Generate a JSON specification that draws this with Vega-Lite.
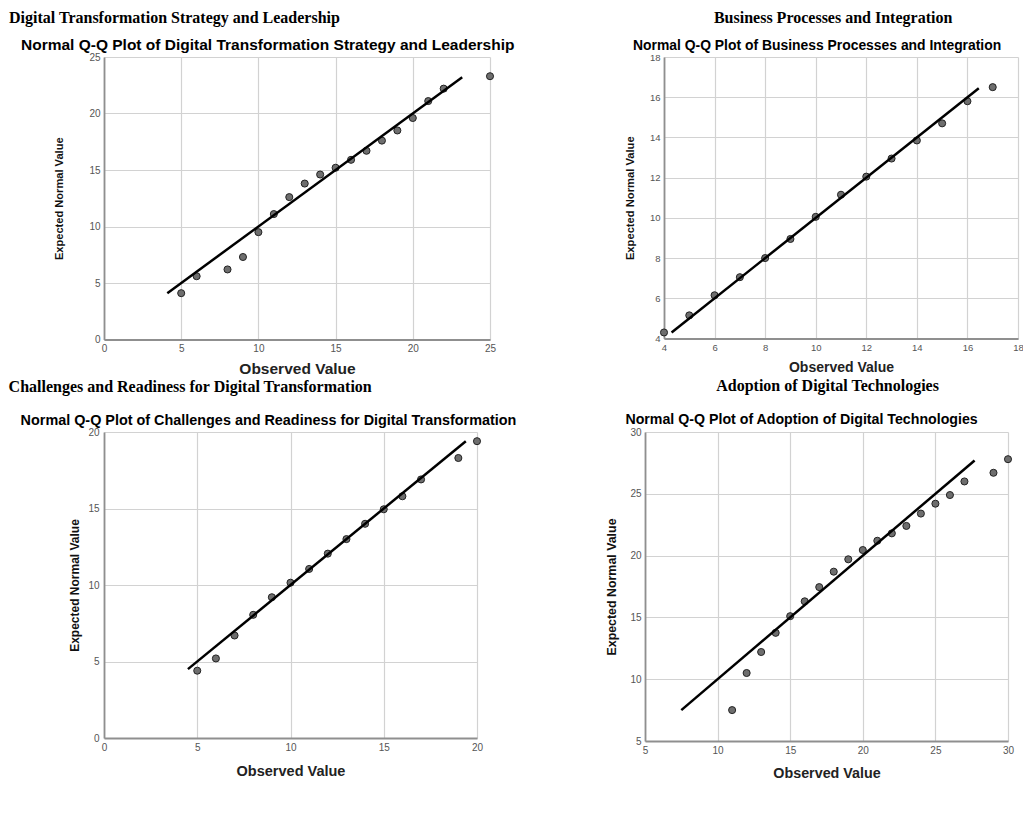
{
  "$schema": "https://vega.github.io/schema/vega-lite/v6.json",
  "background": "white",
  "padding": {"left": 8, "top": 9, "right": 0, "bottom": 0},
  "datasets": {
    "pts": [
      {"panel": "A", "x": 5, "y": 4.1}, {"panel": "A", "x": 6, "y": 5.6}, {"panel": "A", "x": 8, "y": 6.2}, {"panel": "A", "x": 9, "y": 7.3},
      {"panel": "A", "x": 10, "y": 9.5}, {"panel": "A", "x": 11, "y": 11.1}, {"panel": "A", "x": 12, "y": 12.6}, {"panel": "A", "x": 13, "y": 13.8},
      {"panel": "A", "x": 14, "y": 14.6}, {"panel": "A", "x": 15, "y": 15.2}, {"panel": "A", "x": 16, "y": 15.9}, {"panel": "A", "x": 17, "y": 16.7},
      {"panel": "A", "x": 18, "y": 17.6}, {"panel": "A", "x": 19, "y": 18.5}, {"panel": "A", "x": 20, "y": 19.6}, {"panel": "A", "x": 21, "y": 21.1},
      {"panel": "A", "x": 22, "y": 22.2}, {"panel": "A", "x": 25, "y": 23.3},
      {"panel": "B", "x": 4, "y": 4.3}, {"panel": "B", "x": 5, "y": 5.15}, {"panel": "B", "x": 6, "y": 6.15}, {"panel": "B", "x": 7, "y": 7.05},
      {"panel": "B", "x": 8, "y": 8.0}, {"panel": "B", "x": 9, "y": 8.95}, {"panel": "B", "x": 10, "y": 10.05}, {"panel": "B", "x": 11, "y": 11.15},
      {"panel": "B", "x": 12, "y": 12.05}, {"panel": "B", "x": 13, "y": 12.95}, {"panel": "B", "x": 14, "y": 13.85}, {"panel": "B", "x": 15, "y": 14.7},
      {"panel": "B", "x": 16, "y": 15.8}, {"panel": "B", "x": 17, "y": 16.5},
      {"panel": "C", "x": 5, "y": 4.4}, {"panel": "C", "x": 6, "y": 5.2}, {"panel": "C", "x": 7, "y": 6.7}, {"panel": "C", "x": 8, "y": 8.05},
      {"panel": "C", "x": 9, "y": 9.2}, {"panel": "C", "x": 10, "y": 10.15}, {"panel": "C", "x": 11, "y": 11.05}, {"panel": "C", "x": 12, "y": 12.05},
      {"panel": "C", "x": 13, "y": 13.0}, {"panel": "C", "x": 14, "y": 14.0}, {"panel": "C", "x": 15, "y": 14.95}, {"panel": "C", "x": 16, "y": 15.8},
      {"panel": "C", "x": 17, "y": 16.9}, {"panel": "C", "x": 19, "y": 18.3}, {"panel": "C", "x": 20, "y": 19.4},
      {"panel": "D", "x": 11, "y": 7.5}, {"panel": "D", "x": 12, "y": 10.5}, {"panel": "D", "x": 13, "y": 12.2}, {"panel": "D", "x": 14, "y": 13.75},
      {"panel": "D", "x": 15, "y": 15.1}, {"panel": "D", "x": 16, "y": 16.3}, {"panel": "D", "x": 17, "y": 17.45}, {"panel": "D", "x": 18, "y": 18.7},
      {"panel": "D", "x": 19, "y": 19.7}, {"panel": "D", "x": 20, "y": 20.45}, {"panel": "D", "x": 21, "y": 21.2}, {"panel": "D", "x": 22, "y": 21.8},
      {"panel": "D", "x": 23, "y": 22.4}, {"panel": "D", "x": 24, "y": 23.4}, {"panel": "D", "x": 25, "y": 24.2}, {"panel": "D", "x": 26, "y": 24.9},
      {"panel": "D", "x": 27, "y": 26.0}, {"panel": "D", "x": 29, "y": 26.7}, {"panel": "D", "x": 30, "y": 27.8}
    ],
    "lines": [
      {"panel": "A", "x": 4.1, "y": 4.1, "x2": 23.2, "y2": 23.2},
      {"panel": "B", "x": 4.3, "y": 4.3, "x2": 16.45, "y2": 16.45},
      {"panel": "C", "x": 4.5, "y": 4.5, "x2": 19.4, "y2": 19.4},
      {"panel": "D", "x": 7.5, "y": 7.5, "x2": 27.7, "y2": 27.7}
    ]
  },
  "config": {
    "view": {"stroke": null},
    "axis": {"grid": true, "gridColor": "#d2d2d2", "gridWidth": 1.2, "domainColor": "#8f8f8f", "domainWidth": 1.8, "ticks": false,
      "labelFont": "Liberation Sans", "labelColor": "#555555", "labelPadding": 4, "labelFlush": false, "labelOverlap": false},
    "axisX": {"titleFont": "Liberation Sans", "titleFontWeight": "bold", "titleColor": "#222222"},
    "axisY": {"titleFont": "Liberation Sans", "titleFontWeight": "bold", "titleColor": "#111111"},
    "title": {"color": "#000000"},
    "point": {"filled": true, "size": 50, "color": "#6e6e6e", "stroke": "#222222", "strokeWidth": 1, "opacity": 1, "clip": true},
    "rule": {"color": "#000000", "strokeWidth": 2.5}
  },
  "columns": 1,
  "spacing": 0,
  "concat": [
    {
      "columns": 2,
      "spacing": 109,
      "concat": [
        {
          "title": {"text": "Digital Transformation Strategy and Leadership", "anchor": "start", "font": "Liberation Serif", "fontSize": 16, "fontWeight": "bold", "offset": 12, "dx": -12},
          "vconcat": [{
            "title": {"text": "Normal Q-Q Plot of Digital Transformation Strategy and Leadership", "font": "Liberation Sans", "fontSize": 15.5, "fontWeight": "bold", "anchor": "middle", "frame": "bounds", "offset": -1.5, "dx": -7},
            "width": 386, "height": 282.5,
            "encoding": {
              "x": {"field": "x", "type": "quantitative", "title": "Observed Value", "scale": {"domain": [0, 25], "nice": false}, "axis": {"values": [0, 5, 10, 15, 20, 25], "labelFontSize": 10, "titleFontSize": 15.5, "titlePadding": 8}},
              "y": {"field": "y", "type": "quantitative", "title": "Expected Normal Value", "scale": {"domain": [0, 25], "nice": false}, "axis": {"values": [0, 5, 10, 15, 20, 25], "labelFontSize": 10, "titleFontSize": 11.1, "titlePadding": 24}}
            },
            "layer": [
              {"data": {"name": "pts"}, "transform": [{"filter": "datum.panel === 'A'"}], "mark": "point"},
              {"data": {"name": "lines"}, "transform": [{"filter": "datum.panel === 'A'"}], "mark": "rule", "encoding": {"x2": {"field": "x2"}, "y2": {"field": "y2"}}}
            ]
          }]
        },
        {
          "title": {"text": "Business Processes and Integration", "anchor": "middle", "font": "Liberation Serif", "fontSize": 16, "fontWeight": "bold", "offset": 13.5, "dx": 9},
          "vconcat": [{
            "title": {"text": "Normal Q-Q Plot of Business Processes and Integration", "font": "Liberation Sans", "fontSize": 13.9, "fontWeight": "bold", "anchor": "middle", "frame": "bounds", "offset": -1, "dx": -7},
            "width": 354, "height": 281.5,
            "encoding": {
              "x": {"field": "x", "type": "quantitative", "title": "Observed Value", "scale": {"domain": [4, 18], "nice": false, "zero": false}, "axis": {"values": [4, 6, 8, 10, 12, 14, 16, 18], "labelFontSize": 9.5, "titleFontSize": 14, "titlePadding": 8}},
              "y": {"field": "y", "type": "quantitative", "title": "Expected Normal Value", "scale": {"domain": [4, 18], "nice": false, "zero": false}, "axis": {"values": [4, 6, 8, 10, 12, 14, 16, 18], "labelFontSize": 9.5, "titleFontSize": 11.2, "titlePadding": 13.5}}
            },
            "layer": [
              {"data": {"name": "pts"}, "transform": [{"filter": "datum.panel === 'B'"}], "mark": "point"},
              {"data": {"name": "lines"}, "transform": [{"filter": "datum.panel === 'B'"}], "mark": "rule", "encoding": {"x2": {"field": "x2"}, "y2": {"field": "y2"}}}
            ]
          }]
        }
      ]
    },
    {
      "columns": 2,
      "spacing": 88,
      "concat": [
        {
          "title": {"text": "Challenges and Readiness for Digital Transformation", "anchor": "start", "font": "Liberation Serif", "fontSize": 16, "fontWeight": "bold", "offset": 18, "dx": -12},
          "vconcat": [{
            "title": {"text": "Normal Q-Q Plot of Challenges and Readiness for Digital Transformation", "font": "Liberation Sans", "fontSize": 14.4, "fontWeight": "bold", "anchor": "middle", "frame": "bounds", "offset": -1, "dx": -7},
            "width": 373, "height": 306,
            "encoding": {
              "x": {"field": "x", "type": "quantitative", "title": "Observed Value", "scale": {"domain": [0, 20], "nice": false}, "axis": {"values": [0, 5, 10, 15, 20], "labelFontSize": 10, "titleFontSize": 14.5, "titlePadding": 12}},
              "y": {"field": "y", "type": "quantitative", "title": "Expected Normal Value", "scale": {"domain": [0, 20], "nice": false}, "axis": {"values": [0, 5, 10, 15, 20], "labelFontSize": 10, "titleFontSize": 12, "titlePadding": 6.5, "labelPadding": 5}}
            },
            "layer": [
              {"data": {"name": "pts"}, "transform": [{"filter": "datum.panel === 'C'"}], "mark": "point"},
              {"data": {"name": "lines"}, "transform": [{"filter": "datum.panel === 'C'"}], "mark": "rule", "encoding": {"x2": {"field": "x2"}, "y2": {"field": "y2"}}}
            ]
          }]
        },
        {
          "title": {"text": "Adoption of Digital Technologies", "anchor": "middle", "font": "Liberation Serif", "fontSize": 16, "fontWeight": "bold", "offset": 19, "dx": 18},
          "vconcat": [{
            "title": {"text": "Normal Q-Q Plot of Adoption of Digital Technologies", "font": "Liberation Sans", "fontSize": 14.2, "fontWeight": "bold", "anchor": "middle", "frame": "bounds", "offset": 0, "dx": -8},
            "width": 363, "height": 309,
            "encoding": {
              "x": {"field": "x", "type": "quantitative", "title": "Observed Value", "scale": {"domain": [5, 30], "nice": false, "zero": false}, "axis": {"values": [5, 10, 15, 20, 25, 30], "labelFontSize": 10, "titleFontSize": 14.3, "titlePadding": 11}},
              "y": {"field": "y", "type": "quantitative", "title": "Expected Normal Value", "scale": {"domain": [5, 30], "nice": false, "zero": false}, "axis": {"values": [5, 10, 15, 20, 25, 30], "labelFontSize": 10, "titleFontSize": 12.4, "titlePadding": 11.3}}
            },
            "layer": [
              {"data": {"name": "pts"}, "transform": [{"filter": "datum.panel === 'D'"}], "mark": "point"},
              {"data": {"name": "lines"}, "transform": [{"filter": "datum.panel === 'D'"}], "mark": "rule", "encoding": {"x2": {"field": "x2"}, "y2": {"field": "y2"}}}
            ]
          }]
        }
      ]
    }
  ]
}
